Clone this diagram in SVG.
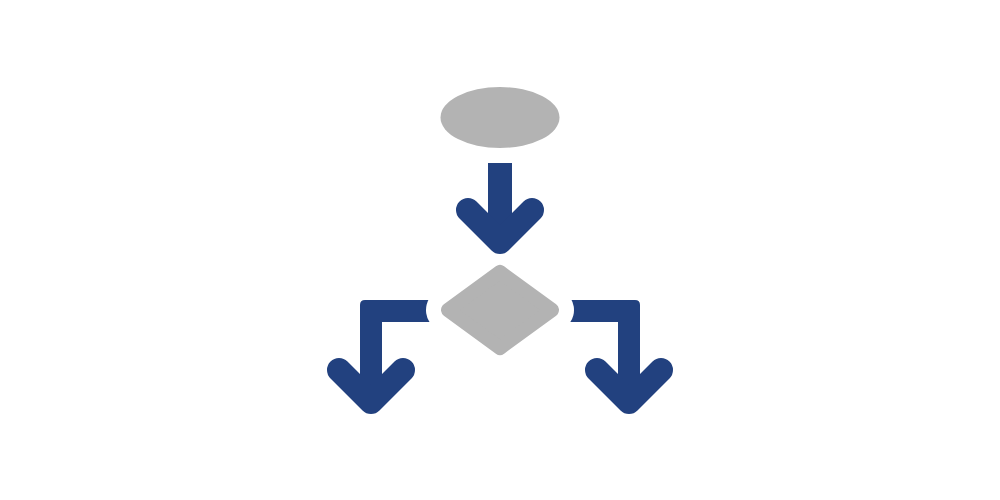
<svg xmlns="http://www.w3.org/2000/svg" width="1000" height="500" viewBox="0 0 1000 500">
<style>
.bar{fill:#22417f}
.chev{fill:none;stroke:#22417f;stroke-width:24;stroke-linecap:round;stroke-linejoin:round}
.shaft{fill:none;stroke:#22417f;stroke-width:24;stroke-linecap:butt}
.shape{fill:#b3b3b3}
</style>
<rect width="1000" height="500" fill="#ffffff"/>
<g id="connectors">
<path class="bar" d="M432,300 H365 Q360,300 360,305 V392 H382 V322 H432 Z"/>
<polyline class="chev" points="339,370 371,402 403,370"/>
<path class="bar" d="M568,300 H635 Q640,300 640,305 V392 H618 V322 H568 Z"/>
<polyline class="chev" points="597,370 629,402 661,370"/>
</g>
<g id="decision">
<polygon points="500,272 552,310 500,348 448,310" fill="#ffffff" stroke="#ffffff" stroke-width="44" stroke-linejoin="round"/>
<polygon class="shape" points="500,272 552,310 500,348 448,310" stroke="#b3b3b3" stroke-width="14" stroke-linejoin="round"/>
</g>
<g id="connector-top">
<line class="shaft" x1="500" y1="163" x2="500" y2="238"/>
<polyline class="chev" points="468,210 500,242 532,210"/>
</g>
<g id="start">
<ellipse class="shape" cx="500" cy="117.5" rx="59.5" ry="30.5"/>
</g>
</svg>
